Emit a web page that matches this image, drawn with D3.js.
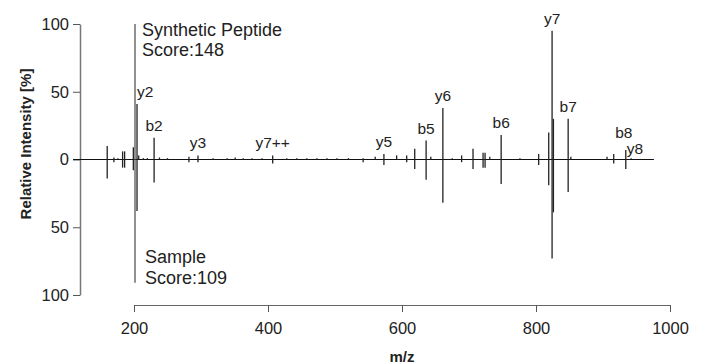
<!DOCTYPE html>
<html>
<head>
<meta charset="utf-8">
<script src="https://cdn.jsdelivr.net/npm/d3@7"></script>
<style>
  body { margin: 0; background: #fff; }
  text { font-family: "Liberation Sans", Arial, sans-serif; fill: #222; }
</style>
</head>
<body>
<svg id="chart" width="702" height="364"></svg>
<script>
// spectrum data (m/z, relative intensity %)
const synthMz  = [160, 170, 176, 183, 186, 199, 201.5, 204.5, 207, 214, 220, 230, 238, 250, 282, 295.5, 318, 339, 351, 363, 376, 391, 407, 428, 443, 458, 473, 488, 503, 520, 542, 560, 573, 592, 607, 619, 636, 643, 661, 675, 689, 706, 721, 724, 731, 748, 776, 804, 819, 824, 826, 848, 852, 906, 916, 934, 942];
const synthInt = [10, 1.5, 1, 6, 6, 9, 100, 41, 3, 1, 1, 16, 1.5, 1, 2, 3, 1, 1, 1.5, 1, 1, 1, 3, 1, 1, 1, 1, 1, 1, 1, 1, 2, 4, 3, 3, 8, 14, 2, 38, 1, 3, 8, 5, 5, 2, 18, 1, 4, 20, 95, 30, 30, 2, 2, 4, 7, 1];
const sampleMz  = [160, 170, 183, 186, 199, 201.5, 204.5, 230, 282, 295.5, 407, 542, 573, 607, 619, 636, 661, 689, 706, 721, 724, 748, 804, 819, 824, 826, 848, 916, 934];
const sampleInt = [14, 2, 6, 6, 8, 91, 38, 17, 2, 2, 3, 2, 4, 2, 7, 15, 32, 2, 7, 6, 6, 18, 4, 19, 73, 39, 24, 3, 7];

const labelText = ["y2", "b2", "y3", "y7++", "y5", "b5", "y6", "b6", "y7", "b7", "b8", "y8"];
const labelMz   = [204.5, 230, 295.5, 407, 573, 636, 661, 748, 824, 848, 934, 934];
const labelInt  = [41, 16, 3, 3, 4, 14, 38, 18, 95, 30, 11, 7];

const baselineRange = [109, 976];
const xTicks = [200, 400, 600, 800, 1000];
const yTicks = [-100, -50, 0, 50, 100];

const svg = d3.select("#chart");

const x = d3.scaleLinear().domain([200, 1000]).range([134, 670]);
const y = d3.scaleLinear().domain([-100, 100]).range([295, 24]);

const FONT = "Liberation Sans, Arial, sans-serif";

// y axis
const yAxis = svg.append("g")
  .attr("transform", "translate(80,0)")
  .call(d3.axisLeft(y).tickValues(yTicks).tickFormat(d => Math.abs(d)).tickSize(7).tickSizeOuter(0));
yAxis.select(".domain").attr("stroke", "#777").attr("stroke-width", 1.5);
yAxis.selectAll(".tick line").attr("stroke", "#555");
yAxis.selectAll(".tick text").attr("font-size", 16.5).attr("fill", "#222").attr("x", -11)
  .attr("font-family", FONT);

// x axis
const xAxis = svg.append("g")
  .attr("transform", "translate(0,305)")
  .call(d3.axisBottom(x).tickValues(xTicks).tickFormat(d3.format("d")).tickSize(7).tickSizeOuter(0));
xAxis.select(".domain").attr("stroke", "#666").attr("stroke-width", 1.2);
xAxis.selectAll(".tick line").attr("stroke", "#555");
xAxis.selectAll(".tick text").attr("font-size", 16.5).attr("fill", "#222").attr("y", 17)
  .attr("font-family", FONT);

// axis titles
svg.append("text")
  .attr("transform", "translate(31,144) rotate(-90)")
  .attr("text-anchor", "middle")
  .attr("font-size", 15).attr("font-weight", "bold")
  .text("Relative Intensity [%]");

svg.append("text")
  .attr("x", 402).attr("y", 362)
  .attr("text-anchor", "middle")
  .attr("font-size", 15).attr("font-weight", "bold")
  .text("m/z");

// zero line
svg.append("line")
  .attr("x1", x(baselineRange[0])).attr("x2", x(baselineRange[1]))
  .attr("y1", y(0)).attr("y2", y(0))
  .attr("stroke", "#111").attr("stroke-width", 1.2);

// synthetic peptide peaks (up)
svg.append("g").selectAll("line")
  .data(d3.zip(synthMz, synthInt))
  .enter().append("line")
  .attr("x1", d => x(d[0])).attr("x2", d => x(d[0]))
  .attr("y1", y(0)).attr("y2", d => y(d[1]))
  .attr("stroke", d => d[1] > 99 ? "#555" : "#222")
  .attr("stroke-width", 1.3);

// sample peaks (down)
svg.append("g").selectAll("line")
  .data(d3.zip(sampleMz, sampleInt))
  .enter().append("line")
  .attr("x1", d => x(d[0])).attr("x2", d => x(d[0]))
  .attr("y1", y(0)).attr("y2", d => y(-d[1]))
  .attr("stroke", d => d[1] > 90 ? "#555" : "#222")
  .attr("stroke-width", 1.3);

// fragment labels
svg.append("g").selectAll("text")
  .data(d3.zip(labelText, labelMz, labelInt))
  .enter().append("text")
  .attr("font-size", 15.5)
  .attr("text-anchor", d => (d[0] === "y2" || d[0] === "y8") ? "start" : "middle")
  .attr("x", d => x(d[1]) + (d[0] === "y8" ? 1 : d[0] === "b8" ? -2 : 0))
  .attr("y", d => d[0] === "y8" ? y(d[2]) + 4 : y(d[2]) - 7)
  .text(d => d[0]);

// spectrum titles
const topTitle = svg.append("text").attr("font-size", 18);
topTitle.append("tspan").attr("x", 142).attr("y", 36).text("Synthetic Peptide");
topTitle.append("tspan").attr("x", 142).attr("y", 56).text("Score:148");

const botTitle = svg.append("text").attr("font-size", 18);
botTitle.append("tspan").attr("x", 145).attr("y", 263).text("Sample");
botTitle.append("tspan").attr("x", 145).attr("y", 284).text("Score:109");
</script>
</body>
</html>
